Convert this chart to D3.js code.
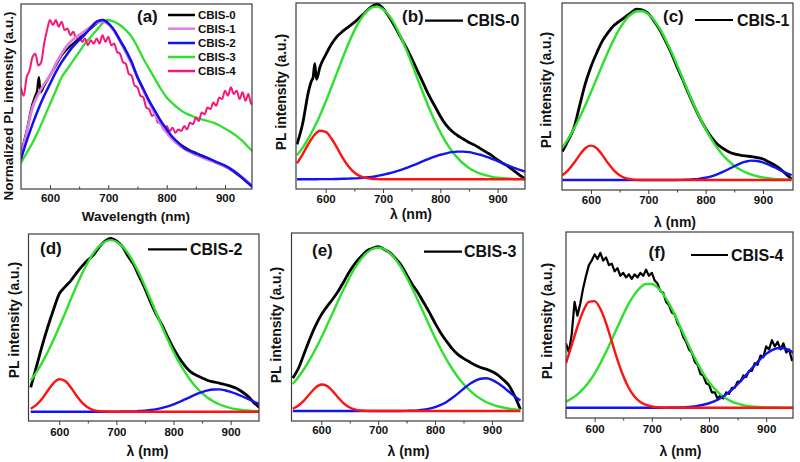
<!DOCTYPE html>
<html><head><meta charset="utf-8">
<script src="https://cdn.jsdelivr.net/npm/d3@7"></script>
<style>
body{margin:0;background:#fff}
svg{display:block;font-family:"Liberation Sans",Arial,sans-serif;font-weight:bold}
</style>
</head><body>
<svg id="chart" width="800" height="462"></svg>
<script>
// ---------- wavelength grids (nm) ----------
const wl10 = [550,560,570,580,590,600,610,620,630,640,650,660,670,680,690,700,710,720,730,740,750,760,770,780,790,800,810,820,830,840,850,860,870,880,890,900,910,920,930,940,950];
const wl0 = [550,560,570,575,578,581,584,590,600,610,620,630,640,650,660,670,680,690,700,710,720,730,740,750,760,770,780,790,800,810,820,830,840,850,860,870,880,890,900,910,920,930,940,950];
const wl5 = [550,555,560,565,570,575,580,585,590,595,600,605,610,615,620,625,630,635,640,645,650,655,660,665,670,675,680,685,690,695,700,705,710,715,720,725,730,735,740,745,750,755,760,765,770,775,780,785,790,795,800,805,810,815,820,825,830,835,840,845,850,855,860,865,870,875,880,885,890,895,900,905,910,915,920,925,930,935,940,945,950];
const xTicks = [600,700,800,900];
const xMinorTicks = [650,750,850];
const sampleNames = ["CBIS-0","CBIS-1","CBIS-2","CBIS-3","CBIS-4"];

// ---------- panel (a): normalized spectra ----------
const aCBIS0 = [0.20,0.34,0.50,0.55,0.58,0.66,0.57,0.61,
  0.67,0.73,0.79,0.83,0.86,0.89,0.92,0.95,0.98,1.0,
  0.98,0.935,0.875,0.81,0.74,0.66,0.585,0.515,0.45,0.39,
  0.34,0.30,0.27,0.245,0.225,0.21,0.195,0.18,0.16,0.145,
  0.13,0.11,0.085,0.06,0.03,0.0];
const aCBIS1 = [0.18,0.33,0.48,0.56,0.62,0.67,0.74,0.80,0.85,0.885,
  0.91,0.935,0.96,0.985,0.99,0.975,0.935,0.875,0.81,0.74,
  0.66,0.58,0.51,0.44,0.38,0.33,0.29,0.26,0.235,0.215,
  0.20,0.185,0.17,0.16,0.145,0.13,0.115,0.09,0.065,0.035,0.005];
const aCBIS2 = [0.17,0.28,0.38,0.47,0.55,0.62,0.69,0.75,0.80,0.845,
  0.88,0.915,0.955,0.99,1.0,0.98,0.94,0.88,0.82,0.75,
  0.66,0.59,0.52,0.46,0.40,0.35,0.305,0.27,0.24,0.222,
  0.207,0.193,0.18,0.165,0.15,0.135,0.115,0.09,0.06,0.03,0.0];
const aCBIS3 = [0.15,0.21,0.27,0.34,0.42,0.50,0.58,0.66,0.71,0.76,
  0.81,0.86,0.90,0.94,0.98,1.0,0.99,0.97,0.94,0.90,
  0.84,0.77,0.71,0.65,0.59,0.54,0.505,0.475,0.45,0.435,
  0.42,0.41,0.40,0.39,0.375,0.355,0.335,0.31,0.28,0.245,0.21];
const aCBIS4 = [0.60,0.55,0.66,0.70,0.78,0.80,0.73,0.75,0.86,0.94,
  1.0,0.97,1.0,0.96,0.99,0.94,0.95,0.91,0.93,0.89,
  0.91,0.87,0.89,0.85,0.88,0.86,0.89,0.86,0.91,0.87,
  0.90,0.85,0.86,0.81,0.80,0.75,0.74,0.68,0.67,0.61,
  0.60,0.55,0.54,0.48,0.47,0.43,0.44,0.39,0.40,0.35,
  0.37,0.34,0.36,0.33,0.35,0.34,0.37,0.35,0.39,0.38,
  0.42,0.40,0.45,0.44,0.48,0.47,0.51,0.49,0.54,0.53,
  0.58,0.55,0.60,0.56,0.58,0.53,0.57,0.52,0.56,0.50,
  0.54];

// ---------- panel (b): CBIS-0 + fit ----------
const bBlack = [0.20,0.32,0.50,0.56,0.58,0.66,0.57,0.64,
  0.71,0.77,0.815,0.845,0.87,0.895,0.925,0.955,0.985,1.0,
  0.975,0.93,0.875,0.815,0.755,0.69,0.62,0.55,0.48,0.42,
  0.36,0.31,0.275,0.25,0.23,0.21,0.195,0.175,0.155,0.135,
  0.11,0.09,0.07,0.045,0.02,0.0];
const bRed = [0.091,0.144,0.202,0.251,0.277,0.270,0.233,0.179,0.121,0.073,
  0.039,0.018,0.008,0.003,0.001,0,0,0,0,0,
  0,0,0,0,0,0,0,0,0,0,
  0,0,0,0,0,0,0,0,0,0,0];
const bGreen = [0.137,0.181,0.233,0.295,0.364,0.442,0.525,0.610,0.695,0.776,
  0.848,0.908,0.952,0.979,0.985,0.970,0.937,0.886,0.820,0.744,
  0.662,0.576,0.491,0.410,0.336,0.269,0.211,0.162,0.122,0.090,
  0.065,0.046,0.032,0.022,0.014,0.009,0.006,0.004,0.002,0.001,0.001];
const bBlue = [0,0,0,0,0.001,0.001,0.001,0.002,0.003,0.004,
  0.005,0.007,0.010,0.014,0.019,0.026,0.033,0.042,0.052,0.064,
  0.077,0.090,0.104,0.117,0.129,0.140,0.148,0.155,0.158,0.158,
  0.155,0.148,0.140,0.129,0.117,0.104,0.090,0.077,0.064,0.052,0.042];

// ---------- panel (c): CBIS-1 + fit ----------
const cBlack = [0.165,0.23,0.30,0.43,0.56,0.66,0.74,0.81,0.86,0.90,
  0.925,0.95,0.975,0.995,0.99,0.97,0.925,0.875,0.81,0.74,
  0.66,0.585,0.505,0.43,0.36,0.30,0.25,0.21,0.185,0.165,
  0.152,0.145,0.14,0.136,0.13,0.122,0.106,0.088,0.065,0.035,0.005];
const cRed = [0.027,0.056,0.097,0.145,0.185,0.200,0.185,0.145,0.097,0.056,
  0.027,0.011,0.004,0.001,0,0,0,0,0,0,
  0,0,0,0,0,0,0,0,0,0,
  0,0,0,0,0,0,0,0,0,0,0];
const cGreen = [0.188,0.238,0.296,0.362,0.434,0.511,0.591,0.671,0.748,0.819,
  0.881,0.931,0.965,0.983,0.983,0.965,0.931,0.881,0.819,0.748,
  0.671,0.591,0.511,0.434,0.362,0.296,0.238,0.188,0.146,0.111,
  0.083,0.061,0.044,0.031,0.022,0.015,0.010,0.006,0.004,0.003,0.002];
const cBlue = [0,0,0,0,0,0,0,0,0,0,
  0,0,0,0,0,0,0,0,0,0,
  0,0.001,0.002,0.004,0.008,0.013,0.021,0.033,0.047,0.063,
  0.080,0.096,0.107,0.113,0.111,0.103,0.090,0.074,0.057,0.041,0.028];

// ---------- panel (d): CBIS-2 + fit ----------
const dBlack = [0.14,0.26,0.38,0.49,0.59,0.68,0.72,0.755,0.80,0.84,
  0.875,0.905,0.95,0.985,1.0,0.985,0.955,0.90,0.85,0.78,
  0.71,0.63,0.56,0.50,0.43,0.365,0.31,0.265,0.23,0.21,
  0.195,0.18,0.172,0.165,0.157,0.148,0.135,0.115,0.09,0.055,0.025];
const dRed = [0.017,0.039,0.075,0.122,0.165,0.187,0.178,0.141,0.093,0.052,
  0.024,0.009,0.003,0.001,0,0,0,0,0,0,
  0,0,0,0,0,0,0,0,0,0,
  0,0,0,0,0,0,0,0,0,0,0];
const dGreen = [0.180,0.228,0.283,0.346,0.415,0.490,0.567,0.647,0.724,0.797,
  0.861,0.916,0.956,0.981,0.990,0.981,0.956,0.916,0.861,0.797,
  0.724,0.647,0.567,0.490,0.415,0.346,0.283,0.228,0.180,0.140,
  0.107,0.080,0.059,0.043,0.031,0.021,0.015,0.010,0.007,0.004,0.003];
const dBlue = [0,0,0,0,0,0,0,0,0,0,
  0,0,0,0,0,0,0.001,0.001,0.002,0.004,
  0.006,0.010,0.015,0.022,0.031,0.042,0.056,0.071,0.086,0.101,
  0.113,0.123,0.128,0.129,0.124,0.115,0.103,0.089,0.074,0.059,0.045];

// ---------- panel (e): CBIS-3 + fit ----------
const eBlack = [0.20,0.26,0.35,0.44,0.52,0.585,0.635,0.68,0.73,0.79,
  0.85,0.90,0.94,0.975,0.99,1.0,0.985,0.965,0.93,0.89,
  0.83,0.77,0.72,0.66,0.60,0.535,0.475,0.425,0.38,0.345,
  0.32,0.30,0.28,0.265,0.255,0.24,0.22,0.19,0.155,0.09,0.01];
const eRed = [0.014,0.034,0.065,0.105,0.142,0.161,0.153,0.121,0.081,0.045,
  0.021,0.008,0.003,0.001,0,0,0,0,0,0,
  0,0,0,0,0,0,0,0,0,0,
  0,0,0,0,0,0,0,0,0,0,0];
const eGreen = [0.164,0.207,0.257,0.314,0.377,0.446,0.520,0.596,0.672,0.745,
  0.814,0.875,0.925,0.963,0.986,0.994,0.986,0.963,0.925,0.875,
  0.814,0.745,0.672,0.596,0.520,0.446,0.377,0.314,0.257,0.207,
  0.164,0.128,0.098,0.074,0.055,0.041,0.029,0.021,0.014,0.010,0.007];
const eBlue = [0,0,0,0,0,0,0,0,0,0,
  0,0,0,0,0,0,0,0,0,0,
  0.001,0.002,0.004,0.008,0.014,0.023,0.037,0.055,0.079,0.106,
  0.135,0.162,0.183,0.196,0.199,0.190,0.171,0.146,0.117,0.089,0.064];

// ---------- panel (f): CBIS-4 + fit ----------
const fBlack = [0.42,0.36,0.48,0.69,0.60,0.68,0.78,0.86,0.93,0.96,
  1.0,0.97,1.01,0.96,0.98,0.93,0.94,0.89,0.91,0.86,
  0.88,0.85,0.87,0.84,0.87,0.85,0.88,0.86,0.90,0.86,
  0.88,0.83,0.81,0.76,0.75,0.69,0.67,0.62,0.61,0.55,
  0.52,0.46,0.43,0.38,0.36,0.30,0.28,0.22,0.21,0.16,
  0.15,0.10,0.10,0.06,0.08,0.06,0.10,0.09,0.13,0.13,
  0.17,0.17,0.21,0.20,0.24,0.24,0.29,0.28,0.34,0.33,
  0.40,0.38,0.44,0.40,0.43,0.38,0.42,0.36,0.38,0.31,
  0.33];
const fRed = [0.290,0.408,0.528,0.629,0.690,0.695,0.645,0.551,0.432,0.312,
  0.208,0.127,0.071,0.037,0.018,0.008,0.003,0.001,0,0,
  0,0,0,0,0,0,0,0,0,0,
  0,0,0,0,0,0,0,0,0,0,0];
const fGreen = [0.040,0.060,0.087,0.123,0.168,0.223,0.289,0.363,0.443,0.526,
  0.607,0.680,0.741,0.784,0.807,0.807,0.784,0.741,0.680,0.607,
  0.526,0.443,0.363,0.289,0.223,0.168,0.123,0.087,0.060,0.040,
  0.026,0.017,0.010,0.006,0.004,0.002,0.001,0.001,0,0,0];
const fBlue = [0,0,0,0,0,0,0,0,0,0,
  0,0,0,0,0,0,0,0,0.001,0.001,
  0.002,0.004,0.007,0.012,0.019,0.029,0.043,0.062,0.087,0.117,
  0.153,0.193,0.236,0.278,0.318,0.351,0.376,0.388,0.388,0.376,0.351];

// ---------- styles ----------
const RED = "#ff1212", GREEN = "#2fe02f", BLUE = "#1414f0", BLACK = "#000";
const aColors = ["#000000", "#e27ee2", "#1212ee", "#2fe02f", "#f5187a"];
const FRAME = "#3c3c3c";

const svg = d3.select("#chart");
const zip = (xs, ys) => xs.map((v, i) => [v, ys[i]]);

function drawPanel(cfg) {
  const x = d3.scaleLinear().domain([550, 950]).range(cfg.xr);
  const y = d3.scaleLinear()
    .domain([-(cfg.b - cfg.base) / cfg.unit, (cfg.base - cfg.t) / cfg.unit])
    .range([cfg.b, cfg.t]);
  const g = svg.append("g");
  const cid = "clip-" + cfg.id;
  svg.append("clipPath").attr("id", cid).append("rect")
    .attr("x", cfg.l).attr("y", cfg.t).attr("width", cfg.r - cfg.l).attr("height", cfg.b - cfg.t);
  const plot = g.append("g").attr("clip-path", `url(#${cid})`);
  cfg.series.forEach(s => {
    const line = d3.line().x(d => x(d[0])).y(d => y(d[1]))
      .curve(s.noisy ? d3.curveLinear : d3.curveMonotoneX);
    plot.append("path").datum(zip(s.wl, s.v))
      .attr("fill", "none").attr("stroke", s.color).attr("stroke-width", s.w)
      .attr("stroke-linejoin", "round").attr("d", line);
  });
  g.append("rect").attr("x", cfg.l).attr("y", cfg.t)
    .attr("width", cfg.r - cfg.l).attr("height", cfg.b - cfg.t)
    .attr("fill", "none").attr("stroke", FRAME).attr("stroke-width", 1.2);
  const inward = cfg.inward;
  const major = d3.axisBottom(x).tickValues(xTicks).tickFormat(d3.format("d"))
    .tickSize(inward ? -4 : 4).tickPadding(cfg.pad);
  const minor = d3.axisBottom(x).tickValues(xMinorTicks).tickFormat("")
    .tickSize(inward ? -2.5 : 2.5);
  const ax = g.append("g").attr("transform", `translate(0,${cfg.b})`).call(major);
  const ax2 = g.append("g").attr("transform", `translate(0,${cfg.b})`).call(minor);
  [ax, ax2].forEach(a => {
    a.select(".domain").remove();
    a.selectAll("line").attr("stroke", FRAME).attr("stroke-width", 1);
  });
  ax.selectAll("text").attr("fill", "#111").style("font-size", "11.5px")
    .style("font-weight", "bold").style("font-family", '"Liberation Sans",Arial,sans-serif');
  g.append("text").attr("x", cfg.xt[0]).attr("y", cfg.xt[1]).attr("text-anchor", "middle")
    .attr("font-size", cfg.titleSize).attr("fill", "#111").text(cfg.xTitle);
  g.append("text").attr("transform", `translate(${cfg.yt[0]},${cfg.yt[1]}) rotate(-90)`)
    .attr("text-anchor", "middle").attr("dominant-baseline", "central")
    .attr("font-size", cfg.ySize).attr("fill", "#111").text(cfg.yTitle);
  g.append("text").attr("x", cfg.tag[0]).attr("y", cfg.tag[1]).attr("font-size", 17)
    .attr("fill", "#111").text(cfg.tagText);
  return {g, x, y};
}

// ----- panel (a)
const pa = drawPanel({
  id: "a", l: 21, r: 252, t: 4, b: 189, xr: [20.8, 254.2], base: 188.3, unit: 168.3,
  inward: true, pad: 4.5, xTitle: "Wavelength (nm)", xt: [136, 221], titleSize: 13.5,
  yTitle: "Normalized PL intensity (a.u.)", yt: [8, 106], ySize: 13.5,
  tag: [137, 22], tagText: "(a)",
  series: [
    {wl: wl10, v: aCBIS3, color: aColors[3], w: 2.3},
    {wl: wl5, v: aCBIS4, color: aColors[4], w: 2},
    {wl: wl0, v: aCBIS0, color: aColors[0], w: 2.3},
    {wl: wl10, v: aCBIS1, color: aColors[1], w: 2.8},
    {wl: wl10, v: aCBIS2, color: aColors[2], w: 2.5}
  ]
});
const legRows = [15, 28.7, 43, 57, 71];
sampleNames.forEach((n, i) => {
  pa.g.append("line").attr("x1", 168).attr("x2", 195).attr("y1", legRows[i]).attr("y2", legRows[i])
    .attr("stroke", aColors[i]).attr("stroke-width", 2.5);
  pa.g.append("text").attr("x", 198).attr("y", legRows[i]).attr("dominant-baseline", "central")
    .attr("font-size", 11.5).attr("fill", "#111").text(n);
});

// ----- panels (b)-(f)
const fitPanels = [
  {id: "b", l: 296, r: 525, t: 3, b: 189, xr: [297, 526.3], base: 179.3, unit: 175.3, pad: 1.8,
   xt: [411, 219], yt: [281, 92], tag: [402, 22], leg: [425, 463, 20.7], legText: [467, 20.7], name: sampleNames[0],
   black: {wl: wl0, v: bBlack}, red: bRed, green: bGreen, blue: bBlue},
  {id: "c", l: 562, r: 793, t: 3, b: 190, xr: [562.3, 791.6], base: 180, unit: 171.7, pad: 1.8,
   xt: [675, 227], yt: [546, 90], tag: [663, 22], leg: [695, 733, 20], legText: [737, 20], name: sampleNames[1],
   black: {wl: wl10, v: cBlack}, red: cRed, green: cGreen, blue: cBlue},
  {id: "d", l: 28.5, r: 259, t: 234, b: 421, xr: [30.7, 259.2], base: 411.7, unit: 173.3, pad: 3.2,
   xt: [147.5, 456], yt: [14, 320], tag: [40, 254], leg: [148, 187, 249.3], legText: [190, 249.3], name: sampleNames[2],
   black: {wl: wl10, v: dBlack}, red: dRed, green: dGreen, blue: dBlue},
  {id: "e", l: 291.5, r: 523, t: 233, b: 421, xr: [292.8, 520.4], base: 411, unit: 164.3, pad: 1.3,
   xt: [408.5, 456], yt: [276, 325], tag: [312, 256], leg: [424, 462, 251.7], legText: [464, 251.7], name: sampleNames[3],
   black: {wl: wl10, v: eBlack}, red: eRed, green: eGreen, blue: eBlue},
  {id: "f", l: 566, r: 793, t: 232, b: 418, xr: [566, 794.8], base: 407.7, unit: 153.3, pad: 3.2,
   xt: [680.5, 456], yt: [547, 321], tag: [648.5, 258], leg: [691, 728, 255], legText: [731, 255], name: sampleNames[4],
   black: {wl: wl5, v: fBlack, noisy: true}, red: fRed, green: fGreen, blue: fBlue}
];

fitPanels.forEach(p => {
  const res = drawPanel({
    id: p.id, l: p.l, r: p.r, t: p.t, b: p.b, xr: p.xr, base: p.base, unit: p.unit,
    inward: false, pad: p.pad, xTitle: "λ (nm)", xt: p.xt, titleSize: 14,
    yTitle: "PL intensity (a.u.)", yt: p.yt, ySize: 14,
    tag: p.tag, tagText: "(" + p.id + ")",
    series: [
      {wl: p.black.wl, v: p.black.v, color: BLACK, w: p.black.noisy ? 2.2 : 2.8, noisy: p.black.noisy},
      {wl: wl10, v: p.green, color: GREEN, w: 2.4},
      {wl: wl10, v: p.blue, color: BLUE, w: 2.4},
      {wl: wl10, v: p.red, color: RED, w: 2.4}
    ]
  });
  res.g.append("line").attr("x1", p.leg[0]).attr("x2", p.leg[1]).attr("y1", p.leg[2]).attr("y2", p.leg[2])
    .attr("stroke", BLACK).attr("stroke-width", 2.2);
  res.g.append("text").attr("x", p.legText[0]).attr("y", p.legText[1]).attr("dominant-baseline", "central")
    .attr("font-size", 16).attr("fill", "#111").text(p.name);
});
</script>
</body></html>
